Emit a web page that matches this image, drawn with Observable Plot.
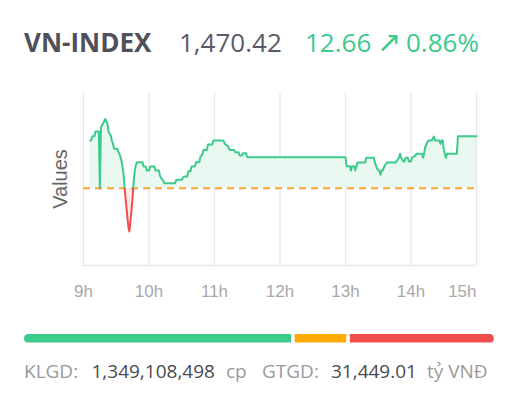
<!DOCTYPE html>
<html>
<head>
<meta charset="utf-8">
<script src="https://cdn.jsdelivr.net/npm/d3@7"></script>
<script src="https://cdn.jsdelivr.net/npm/@observablehq/plot@0.6"></script>
<style>
  html, body { margin: 0; padding: 0; background: #fff; }
  body { width: 510px; height: 403px; position: relative; overflow: hidden; font-family: "Open Sans", sans-serif; }
  .t { position: absolute; white-space: nowrap; }
  .hd { font-size: 26px; line-height: 26px; top: 29px; }
  .ft { font-size: 19px; line-height: 19px; top: 362px; }
  #chart { position: absolute; left: 0; top: 80px; }
  #breadth { position: absolute; left: 24px; top: 334px; width: 470px; height: 8.5px; border-radius: 4.25px; overflow: hidden; }
  #breadth svg { position: absolute; left: -1.75px; top: 0; max-width: none !important; }
</style>
</head>
<body>
<div id="header"></div>
<div id="chart"></div>
<div id="breadth"></div>
<div id="footer"></div>
<script>
// ---- data ----
const indexName = "VN-INDEX";
const lastValue = 1470.42;
const change = 12.66;
const changePct = 0.86;
const refValue = 1457.76;

const times = ["9:06","9:07","9:08","9:10","9:11","9:14","9:15","9:16","9:18","9:20","9:22","9:23","9:25","9:26","9:27","9:28","9:31","9:32","9:33","9:34","9:35","9:36","9:37",
  "9:38","9:39","9:40","9:41","9:42","9:43","9:44","9:45","9:46","9:47","9:48","9:49","9:54","9:55","9:57","9:58","10:00","10:01","10:05","10:06","10:09","10:10","10:11","10:13","10:14","10:15","10:24",
  "10:25","10:30","10:32","10:35","10:36","10:38","10:39","10:42","10:43","10:46","10:47","10:49","10:50","10:53","10:54","10:58","10:59","11:08","11:10","11:12","11:14","11:18","11:19","11:22","11:23","11:25","11:26","11:29","11:30",
  "13:00","13:01","13:04","13:05","13:06","13:08","13:09","13:10","13:11","13:18","13:19","13:26","13:27","13:29","13:31","13:32","13:33","13:34","13:36","13:38","13:46","13:49","13:50","13:51","13:53","13:54","13:55","13:57","13:58","14:00","14:01","14:04","14:05","14:10","14:11","14:12","14:13","14:15","14:16","14:19","14:21","14:22","14:26","14:27","14:28","14:29","14:30","14:31","14:32","14:33","14:42","14:43","15:00"];
const values = [1469.37,1469.37,1470.43,1470.43,1471.57,1471.57,1457.76,1472.62,1473.6,1474.65,1473.43,1471.4,1470.59,1469.37,1468.56,1467.35,1467.35,1466.53,1466.13,1465.32,1464.1,1462.48,1460.45,
  1456.6,1454.0,1451.2,1448.6,1447.2,1449.8,1452.6,1455.6,1459.4,1462.0,1463.4,1464.1,1464.1,1463.04,1463.04,1462.07,1462.07,1463.04,1463.04,1462.07,1462.07,1460.9,1460.28,1459.63,1458.98,1458.98,1458.98,
  1459.8,1459.8,1460.61,1460.61,1461.91,1461.91,1463.04,1463.04,1464.1,1464.1,1465.32,1466.13,1467.1,1467.1,1468.4,1468.4,1469.37,1469.37,1468.4,1468.16,1467.1,1467.1,1466.53,1466.53,1465.72,1465.72,1466.29,1466.29,1465.32,
  1465.32,1463.1,1463.1,1462.07,1463.1,1463.1,1462.07,1463.1,1464.0,1464.0,1465.2,1465.2,1464.0,1462.48,1462.07,1461.02,1462.07,1462.07,1463.29,1464.0,1464.0,1465.2,1466.14,1465.2,1464.26,1464.26,1465.2,1465.2,1464.26,1464.26,1465.2,1465.72,1466.14,1466.14,1465.2,1466.14,1467.74,1468.96,1469.37,1469.37,1470.35,1469.37,1469.37,1468.57,1469.37,1469.37,1467.35,1466.14,1465.2,1466.14,1466.14,1470.42,1470.42];

const tickHours = [9, 10, 11, 12, 13, 14, 15];
const tickLabels = ["9h", "10h", "11h", "12h", "13h", "14h", "15h"];
const yDomain = [1438.9, 1481.1];

const breadthKeys = ["Tăng", "Đứng giá", "Giảm"];
const breadthCounts = [226, 46, 123];
const breadthColors = ["#3ccb8a", "#ffab00", "#f04d4d"];

const volumeLabel = "KLGD:";
const volume = 1349108498;
const volumeUnit = "cp";
const turnoverLabel = "GTGD:";
const turnover = 31449.01;
const turnoverUnit = "tỷ VNĐ";

// ---- colors ----
const green = "#3ccb8a", red = "#f04d4d", orange = "#f9a825";

// ---- header ----
const fmt2 = d3.format(",.2f");
const header = document.getElementById("header");
function addText(parent, cls, left, text, style) {
  const s = document.createElement("span");
  s.className = "t " + cls;
  s.style.left = left + "px";
  Object.assign(s.style, style || {});
  s.textContent = text;
  parent.appendChild(s);
}
addText(header, "hd", 24, indexName, {fontWeight: "700", color: "#50505b"});
addText(header, "hd", 179, fmt2(lastValue), {color: "#5a5a66"});
addText(header, "hd", 305, fmt2(change), {color: "#3cc98b"});
addText(header, "hd", 377, "↗", {color: "#3cc98b", fontFamily: "'DejaVu Sans', sans-serif", fontSize: "29px"});
addText(header, "hd", 406, fmt2(changePct) + "%", {color: "#3cc98b"});

// ---- main chart ----
const parseT = s => { const [h, m] = s.split(":").map(Number); return h * 60 + m; };
const data = times.map((t, i) => ({t: parseT(t), v: values[i]}));
const tickMinutes = tickHours.map(h => h * 60);
const labelOf = m => tickLabels[tickHours.indexOf(m / 60)];

const plot = Plot.plot({
  width: 510,
  height: 230,
  marginTop: 12,
  marginBottom: 45,
  marginLeft: 83,
  marginRight: 34,
  style: {fontFamily: "'Liberation Sans', Arial, sans-serif", fontSize: "17px", background: "transparent", overflow: "visible"},
  x: {domain: [540, 900]},
  y: {domain: yDomain, axis: null},
  marks: [
    Plot.gridX(tickMinutes, {stroke: "#e8e8e8", strokeOpacity: 1, strokeWidth: 1.3}),
    Plot.ruleY([yDomain[0]], {stroke: "#e8e8e8", strokeWidth: 1.3}),
    Plot.areaY(data, {x: "t", y1: refValue, y2: "v", fill: "#e9f9f1"}),
    Plot.areaY(data, {x: "t", y1: refValue, y2: "v", fill: "#fde9e9"}),
    Plot.ruleY([refValue], {stroke: orange, strokeWidth: 2, strokeDasharray: "7,5"}),
    Plot.lineY(data, {x: "t", y: "v", stroke: green, strokeWidth: 2}),
    Plot.lineY(data, {x: "t", y: "v", stroke: red, strokeWidth: 2}),
    Plot.axisX(tickMinutes.slice(0, -1), {tickSize: 0, tickPadding: 19, tickFormat: labelOf, label: null, fill: "#a8a8a8", fontSize: 17}),
    Plot.axisX(tickMinutes.slice(-1), {tickSize: 0, tickPadding: 19, tickFormat: labelOf, label: null, fill: "#a8a8a8", fontSize: 17, textAnchor: "end"}),
    Plot.text(["Values"], {frameAnchor: "left", textAnchor: "middle", rotate: -90, dx: -23, fontSize: 20, fill: "#666"})
  ]
});
document.getElementById("chart").appendChild(plot);

// clip the fills/lines above (green) and below (red) the reference level
{
  const svg = d3.select(plot);
  const y0 = plot.scale("y").apply(refValue);
  const defs = svg.insert("defs", ":first-child");
  defs.append("clipPath").attr("id", "clipUp").append("rect")
    .attr("x", 0).attr("y", -50).attr("width", 510).attr("height", y0 + 50);
  defs.append("clipPath").attr("id", "clipDown").append("rect")
    .attr("x", 0).attr("y", y0).attr("width", 510).attr("height", 300);
  const areas = svg.selectAll('g[aria-label="area"]').nodes();
  const lines = svg.selectAll('g[aria-label="line"]').nodes();
  if (areas.length === 2) { areas[0].setAttribute("clip-path", "url(#clipUp)"); areas[1].setAttribute("clip-path", "url(#clipDown)"); }
  if (lines.length === 2) { lines[0].setAttribute("clip-path", "url(#clipUp)"); lines[1].setAttribute("clip-path", "url(#clipDown)"); }
}

// ---- market breadth bar ----
const breadth = breadthKeys.map((k, i) => ({k, n: breadthCounts[i]}));
const bar = Plot.plot({
  width: 473.5,
  height: 8.5,
  marginTop: 0, marginRight: 0, marginBottom: 0, marginLeft: 0,
  x: {domain: [0, d3.sum(breadthCounts)], axis: null},
  color: {domain: breadthKeys, range: breadthColors},
  marks: [
    Plot.barX(breadth, Plot.stackX({x: "n", fill: "k", insetLeft: 1.75, insetRight: 1.75}))
  ]
});
document.getElementById("breadth").appendChild(bar);

// ---- footer ----
const footer = document.getElementById("footer");
const gray = "#9a9a9a", dark = "#4a4a4f";
addText(footer, "ft", 24, volumeLabel, {color: gray});
addText(footer, "ft", 91.5, d3.format(",")(volume), {color: dark});
addText(footer, "ft", 226, volumeUnit, {color: gray});
addText(footer, "ft", 262, turnoverLabel, {color: gray});
addText(footer, "ft", 331, fmt2(turnover), {color: dark});
addText(footer, "ft", 427, turnoverUnit, {color: gray});
</script>
</body>
</html>
